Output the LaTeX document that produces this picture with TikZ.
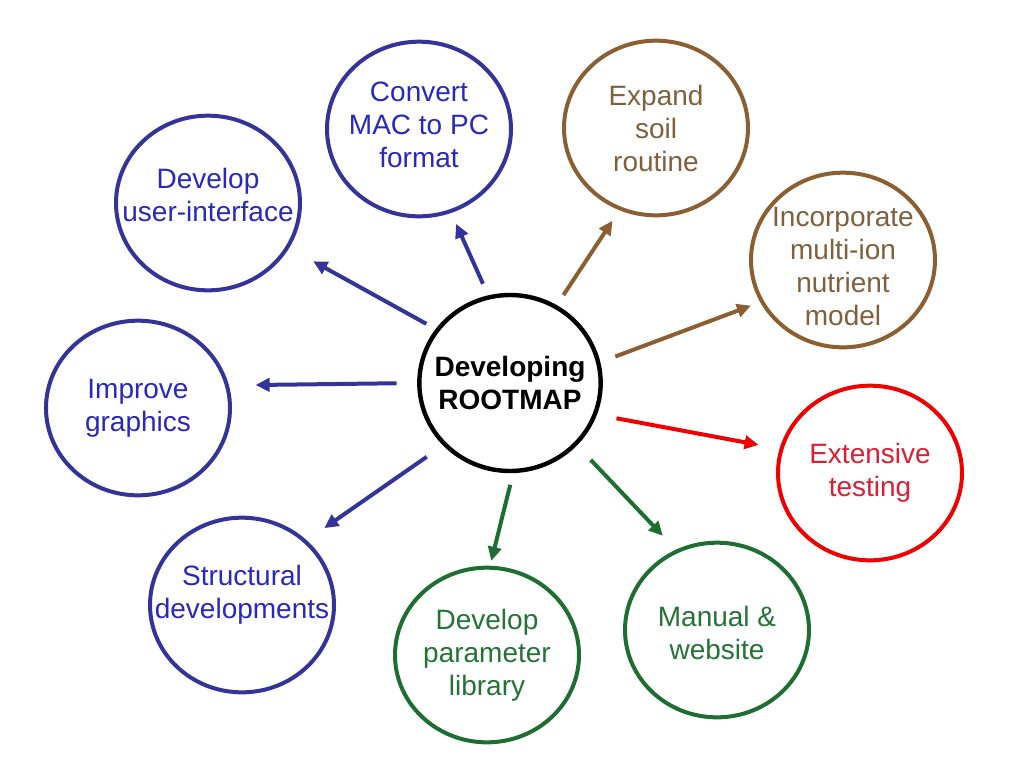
\documentclass[tikz,border=0pt]{standalone}
\usepackage{fontspec}
\setmainfont{Liberation Sans}
\usetikzlibrary{arrows.meta,shapes.geometric}
\definecolor{bubblue}{RGB}{51,51,153}
\definecolor{txtblue}{RGB}{40,40,190}
\definecolor{bubbrown}{RGB}{140,95,50}
\definecolor{txtbrown}{RGB}{130,95,60}
\definecolor{bubgreen}{RGB}{30,110,50}
\definecolor{txtgreen}{RGB}{35,115,55}
\definecolor{bubred}{RGB}{240,0,0}
\definecolor{txtred}{RGB}{220,30,50}
\tikzset{
  bubble/.style={ellipse, draw=#1, line width=3pt, minimum width=138pt, minimum height=131pt, inner sep=0pt},
  btext/.style={text=#1, align=center, font=\fontsize{21}{24.75}\selectfont},
  link/.style={draw=#1, line width=3pt, -{Triangle[length=10.5pt,width=10pt]}},
}
\begin{document}
\begin{tikzpicture}[x=0.75pt,y=-0.75pt]
    \useasboundingbox (0,0) rectangle (1024,768);
    \node[bubble=black, line width=3.3pt, minimum width=136pt, minimum height=132pt, label={[btext=black, font=\fontsize{21}{24.75}\selectfont\bfseries]center:Developing\\ROOTMAP}] (c) at (510,383) {};
    \node[bubble=bubblue, label={[btext=txtblue, yshift=3pt]center:Convert\\MAC to PC\\format}] (cv) at (419,129) {};
    \node[bubble=bubbrown, label={[btext=txtbrown]center:Expand\\soil\\routine}] (es) at (656,128) {};
    \node[bubble=bubblue, label={[btext=txtblue, yshift=6pt]center:Develop\\user-interface}] (ui) at (208,203) {};
    \node[bubble=bubbrown, label={[btext=txtbrown, yshift=-4.5pt]center:Incorporate\\multi-ion\\nutrient\\model}] (ion) at (843,260) {};
    \node[bubble=bubblue, label={[btext=txtblue]center:Improve\\graphics}] (gr) at (138,408) {};
    \node[bubble=bubred, label={[btext=txtred]center:Extensive\\testing}] (et) at (870,473) {};
    \node[bubble=bubblue, label={[btext=txtblue, yshift=7.5pt]center:Structural\\developments}] (sd) at (242,605) {};
    \node[bubble=bubgreen, label={[btext=txtgreen]center:Develop\\parameter\\library}] (pl) at (487,655) {};
    \node[bubble=bubgreen, label={[btext=txtgreen, yshift=-2.5pt]center:Manual \&\\website}] (mw) at (717,630) {};
    \draw[link=bubblue, shorten <=9.5pt, shorten >=9pt] (c.104) -- (cv.-69);
    \draw[link=bubbrown, shorten <=9pt, shorten >=9.4pt] (c.59) -- (es.-114);
    \draw[link=bubblue, shorten <=8pt, shorten >=20.6pt] (c.144) -- (ui.-29.3);
    \draw[link=bubbrown, shorten <=12pt, shorten >=7.4pt] (c.13.9) -- (ion.207.3);
    \draw[link=bubblue, shorten <=15.4pt, shorten >=20pt] (c.180.5) -- (gr.14.8);
    \draw[link=bubred, shorten <=14.9pt, shorten >=16pt] (c.-20.4) -- (et.165.4);
    \draw[link=bubblue, shorten <=14.9pt, shorten >=16pt] (c.223.9) -- (sd.45);
    \draw[link=bubgreen, shorten <=9pt, shorten >=3.8pt] (c.-88.9) -- (pl.88.2);
    \draw[link=bubgreen, shorten <=14.9pt, shorten >=14.4pt] (c.-43.9) -- (mw.117);
\end{tikzpicture}
\end{document}
